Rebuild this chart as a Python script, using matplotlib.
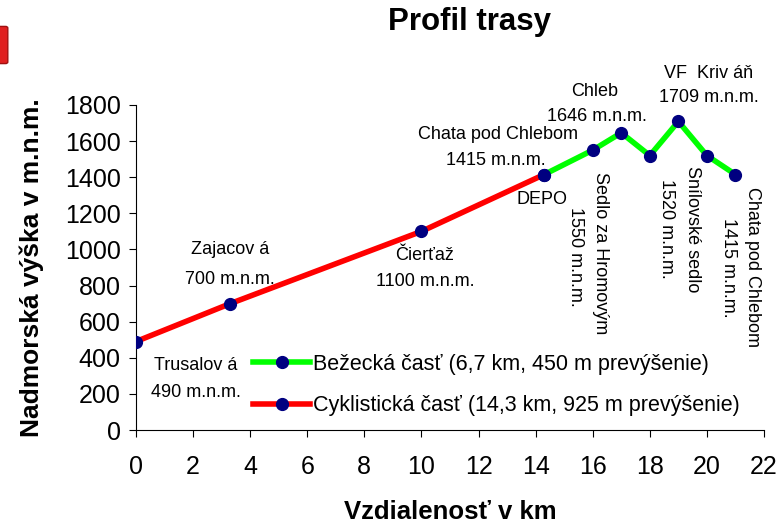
import matplotlib
matplotlib.use("Agg")
import matplotlib.pyplot as plt
from matplotlib.lines import Line2D
from matplotlib.patches import FancyBboxPatch

plt.rcParams['font.family'] = ['Liberation Sans', 'DejaVu Sans']

# cyklisticka cast
bike_km = [0, 3.3, 10, 14.3]
bike_alt = [490, 700, 1100, 1415]
# bezecka cast
run_km = [14.3, 16, 17, 18, 19, 20, 21]
run_alt = [1415, 1550, 1646, 1520, 1709, 1520, 1415]

# (text, x, y, rotation)
labels = [
    ("Trusalov á", 2.1, 360, 0), ("490 m.n.m.", 2.1, 210, 0),
    ("Zajacov á", 3.29, 997, 0), ("700 m.n.m.", 3.29, 831, 0),
    ("Čierťaž", 10.12, 969, 0), ("1100 m.n.m.", 10.12, 820, 0),
    ("Chata pod Chlebom", 12.68, 1634, 0), ("1415 m.n.m.", 12.61, 1495, 0),
    ("DEPO", 14.22, 1274, 0),
    ("Chleb", 16.08, 1872, 0), ("1646 m.n.m.", 16.15, 1734, 0),
    ("VF  Kriv áň", 20.07, 1977, 0), ("1709 m.n.m.", 20.07, 1839, 0),
    ("1550 m.n.m.", 15.38, 958, -90), ("Sedlo za Hromovým", 16.26, 980, -90),
    ("1520 m.n.m.", 18.6, 1113, -90), ("Snílovské sedlo", 19.48, 1113, -90),
    ("1415 m.n.m.", 20.74, 897, -90), ("Chata pod Chlebom", 21.61, 903, -90),
]

fig = plt.figure(figsize=(7.8, 5.25), dpi=100)
ax = fig.add_axes([136/780, 1-430/525, 628/780, 325/525])

ax.plot(bike_km, bike_alt, color='#ff0000', lw=4, marker='o', ms=8.5,
        mfc='#000080', mec='#000080', zorder=3)
ax.plot(run_km, run_alt, color='#00ff00', lw=4, marker='o', ms=8.5,
        mfc='#000080', mec='#000080', zorder=3)

for t, x, y, r in labels:
    ax.text(x, y, t, rotation=r, ha='center', va='center', fontsize=13)

ax.set_xlim(0, 22)
ax.set_ylim(0, 1800)
ax.set_xticks(range(0, 23, 2))
ax.set_yticks(range(0, 1801, 200))
ax.tick_params(labelsize=18, direction='out', length=5)
ax.tick_params(axis='x', pad=13)
ax.tick_params(axis='y', pad=6)
for s in ['top', 'right']:
    ax.spines[s].set_visible(False)

h_run = Line2D([], [], color='#00ff00', lw=4, marker='o', ms=8.5,
               mfc='#000080', mec='#000080')
h_bike = Line2D([], [], color='#ff0000', lw=4, marker='o', ms=8.5,
                mfc='#000080', mec='#000080')
ax.legend([h_run, h_bike],
          ["Bežecká časť (6,7 km, 450 m prevýšenie)",
           "Cyklistická časť (14,3 km, 925 m prevýšenie)"],
          loc='upper left', bbox_to_anchor=(253/780, 1-354/525),
          bbox_transform=fig.transFigure, frameon=False, borderpad=0,
          borderaxespad=0, fontsize=15.5, handlelength=2.65,
          handletextpad=0.15, labelspacing=0.95)

ax.set_ylabel("Nadmorská výška v m.n.m.", fontsize=19, fontweight='bold')
ax.yaxis.set_label_coords(-(136-44)/628, 0.5)
ax.set_xlabel("Vzdialenosť v km", fontsize=18.5, fontweight='bold')
ax.xaxis.label.set_verticalalignment('center')
ax.xaxis.set_label_coords((450-136)/628, -(512-430)/325)
fig.text(470/780, 1-22/525, "Profil trasy", ha='center', va='center',
         fontsize=22.5, fontweight='bold')

# kusok loga v rohu
fig.patches.append(FancyBboxPatch((-0.02, 1-62/525), 0.027, 34/525,
                                  boxstyle='round,pad=0.003', transform=fig.transFigure,
                                  fc='#e02020', ec='#a01010', lw=1))

fig.savefig("out.png", dpi=100)
